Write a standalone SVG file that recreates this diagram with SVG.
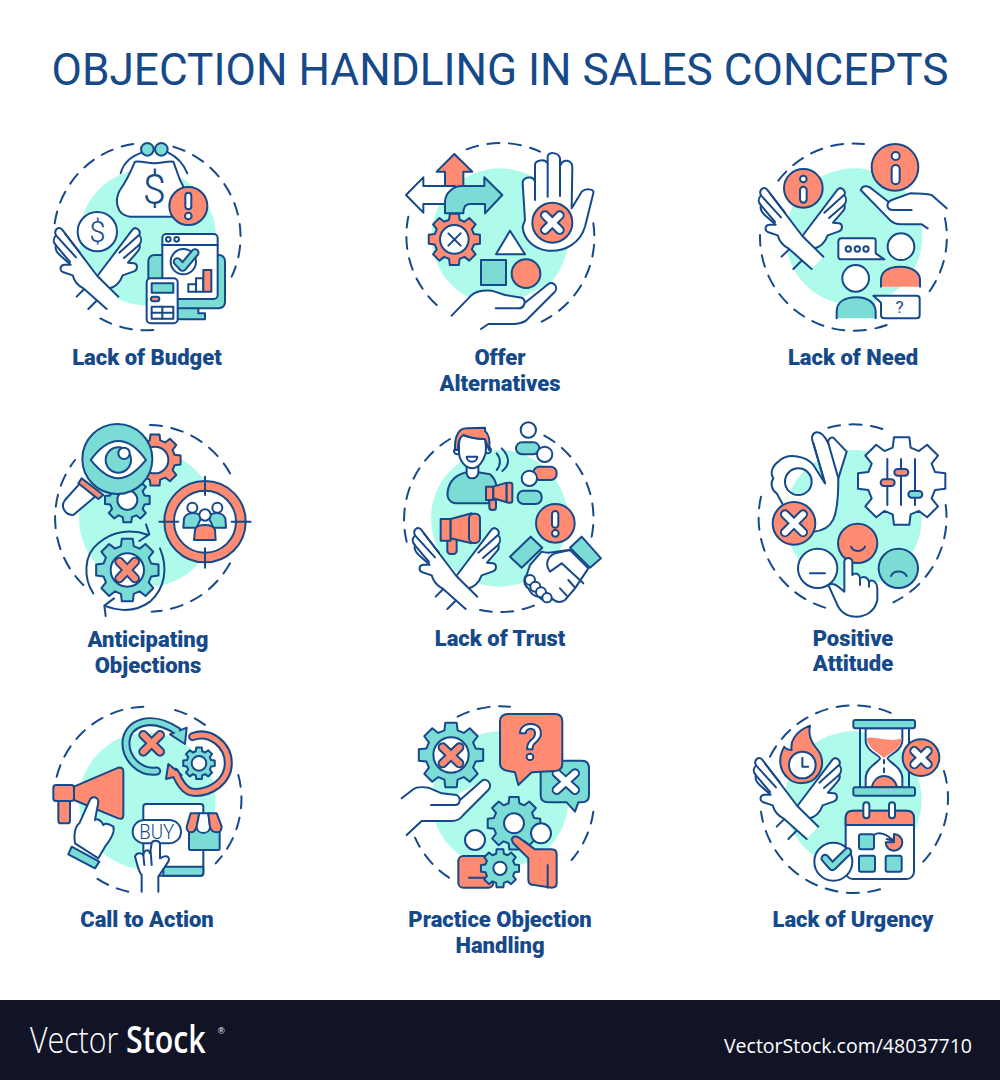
<svg xmlns="http://www.w3.org/2000/svg" width="1000" height="1080" viewBox="0 0 1000 1080">
<style>
*{vector-effect:non-scaling-stroke}
.i{stroke:#16498a;stroke-width:2;fill:none;stroke-linecap:round;stroke-linejoin:round}
.w{fill:#fff}.t{fill:#7bdcd5}.r{fill:#ff8b72}
.l{fill:#aefbeb;stroke:none}
.n{stroke:none}
.d{stroke-dasharray:12 9.5;fill:none}
.xo{stroke-width:10;fill:none}.xw{stroke:#fff;stroke-width:6;fill:none}.xr{stroke:#ff8b72;stroke-width:6;fill:none}.xt{stroke:#7bdcd5;stroke-width:5;fill:none}.xs{stroke:#ff8b72;stroke-width:5;fill:none}.o8{stroke-width:9;fill:none}
.i text{stroke:none;fill:#16498a;font-family:Roboto,"Liberation Sans",sans-serif;font-weight:300;text-anchor:middle}
.lb{font-family:Roboto,"Liberation Sans",sans-serif;font-weight:900;font-size:22px;fill:#16498a;text-anchor:middle}
.ft{font-family:"Open Sans","Liberation Sans",sans-serif;fill:#fff}
</style>
<defs>
<path id="gear" d="M75.3 -20.2L98.5 -17.4L98.5 17.4L75.3 20.2L67.5 39L81.9 57.4L57.4 81.9L39 67.5L20.2 75.3L17.4 98.5L-17.4 98.5L-20.2 75.3L-39 67.5L-57.4 81.9L-81.9 57.4L-67.5 39L-75.3 20.2L-98.5 17.4L-98.5 -17.4L-75.3 -20.2L-67.5 -39L-81.9 -57.4L-57.4 -81.9L-39 -67.5L-20.2 -75.3L-17.4 -98.5L17.4 -98.5L20.2 -75.3L39 -67.5L57.4 -81.9L81.9 -57.4L67.5 -39Z"/>
<g id="hands">
<path d="M110 500L135 475M145 537L172 510"/>
<path class="w" d="M172 438L278 298C288 288 304 302 298 316C306 324 304 336 298 344C302 352 298 360 290 368L264 398L282 400C294 402 294 420 282 424L248 436C240 458 225 472 205 476Z"/>
<path d="M238 368L296 316M252 384L298 344"/>
<path class="w" d="M235 500L172 438L66 298C56 288 40 300 48 316C38 326 40 338 48 346C44 356 52 368 60 376L92 404L72 404C60 406 58 420 68 426L98 436C104 458 115 468 130 475L200 537"/>
<path d="M48 316L108 382M48 346L90 396M76 312L120 368"/>
</g>
</defs>
<rect width="1000" height="1080" fill="#fff"/>
<text x="500" y="85" font-family="Roboto,'Liberation Sans',sans-serif" font-size="44.2" fill="#16498a" text-anchor="middle">OBJECTION HANDLING IN SALES CONCEPTS</text>

<g id="lack-of-budget">
<g class="i" transform="translate(40 130) scale(.33333)">
<circle class="l" cx="323" cy="322" r="205"/>
<path class="d" d="M44 280A282 282 0 0 1 280 42M400 50A282 282 0 0 1 575 440M340 600A282 282 0 0 1 180 565"/>
<path d="M242 130C250 100 270 80 305 68M442 130C430 100 405 78 385 68"/>
<circle class="t" cx="322" cy="58" r="19"/><circle class="t" cx="364" cy="58" r="19"/>
<path class="w" d="M285 95C305 92 320 100 343 100C365 100 385 92 400 95L420 150C445 190 440 255 400 260L270 260C225 255 225 205 240 180C255 160 270 130 285 95Z"/>
<text x="343" y="222" font-size="125">$</text>
<circle class="r" cx="445" cy="228" r="57"/>
<rect class="w" x="436" y="188" width="18" height="50" rx="9"/><circle class="w" cx="445" cy="258" r="10"/>
<circle class="w" cx="172" cy="305" r="59"/>
<text x="172" y="336" font-size="88">$</text>
<use href="#hands"/>
<path class="t" d="M405 530L405 568L495 568L495 550L475 550L475 535"/>
<rect class="t" x="325" y="375" width="230" height="160" rx="18"/>
<rect class="w" x="367" y="312" width="166" height="195" rx="12"/>
<path d="M367 345L533 345"/><circle cx="385" cy="328" r="7"/><circle cx="410" cy="328" r="7"/>
<circle class="w" cx="430" cy="395" r="38"/>
<path class="o8" d="M412 395L428 412L465 368"/><path class="xt" d="M412 395L428 412L465 368"/>
<rect class="w" x="445" y="463" width="23" height="22"/><rect class="w" x="468" y="445" width="22" height="40"/><rect class="r" x="490" y="420" width="24" height="65"/>
<rect class="w" x="320" y="445" width="93" height="135" rx="12"/>
<rect class="t" x="335" y="460" width="65" height="28"/><rect class="r" x="333" y="500" width="25" height="14" rx="7"/>
<rect x="335" y="530" width="65" height="36"/><path d="M335 548L400 548M367 530L367 566"/>
</g>
<text class="lb" x="147" y="365">Lack of Budget</text>
</g>

<g id="offer-alternatives">
<g class="i" transform="translate(395 130) scale(.33333)">
<circle class="l" cx="315" cy="320" r="205"/>
<path class="d" d="M215 58A282 282 0 0 1 435 65M595 280A282 282 0 0 1 440 575M125 525A282 282 0 0 1 40 260"/>
<path class="r" d="M178 72L232 125L205 125L205 180L150 180L150 125L125 125Z"/>
<path class="w" d="M33 195L85 142L85 168L180 168L180 222L85 222L85 248Z"/>
<path class="t" d="M150 250L150 215C150 190 175 168 200 168L268 168L268 142L322 195L270 250L270 222L225 222C210 222 205 235 205 250Z"/>
<use class="r" href="#gear" transform="translate(178 328) scale(.78)"/>
<circle class="w" cx="178" cy="328" r="43"/><path d="M160 310L197 347M197 310L160 347"/>
<path class="w" d="M345 302L390 373L303 373Z"/><rect class="t" x="258" y="390" width="75" height="75"/><circle class="r" cx="393" cy="431" r="43"/>
<path class="w n" d="M170 557L228 497C240 485 260 480 290 482L330 495L380 503L460 462C475 450 495 475 475 490L400 565C390 578 375 580 360 582L280 582L258 597Z"/>
<path d="M170 557L228 497C240 485 260 480 290 482L330 495L380 503C395 510 390 535 370 535L302 535M388 520L460 462C475 450 495 475 475 490L400 565C390 578 375 580 360 582L280 582L258 597"/>
<path class="w" d="M390 270L383 160C383 140 415 135 420 155L420 105C420 90 450 85 458 100L458 80C458 65 490 65 495 85L497 105C505 85 530 90 532 110L530 235L560 185C570 175 600 175 595 190L570 290C555 340 510 365 460 362C420 358 385 330 383 290Z"/>
<path d="M420 155L420 210M458 100L458 200M495 90L495 198"/>
<circle class="r" cx="472" cy="278" r="60"/>
<path class="xo" d="M450 256L494 300M494 256L450 300"/><path class="xw" d="M450 256L494 300M494 256L450 300"/>
</g>
<text class="lb" x="500" y="365">Offer</text><text class="lb" x="500" y="391">Alternatives</text>
</g>

<g id="lack-of-need">
<g class="i" transform="translate(745 130) scale(.33333)">
<circle class="l" cx="327" cy="320" r="205"/>
<path class="d" d="M100 152A282 282 0 0 1 357 42M600 265A282 282 0 0 1 553 485M425 585A282 282 0 0 1 45 315"/>
<circle class="r" cx="175" cy="175" r="58"/><circle class="w" cx="175" cy="147" r="10"/><rect class="w" x="165" y="170" width="20" height="48" rx="10"/>
<use href="#hands" transform="translate(0 -120)"/>
<path class="w n" d="M347 180C355 160 375 170 385 180L430 215L495 190L560 195L605 235L548 295L530 283L470 283C450 283 440 278 430 265Z"/>
<path d="M605 235L560 195C540 190 520 190 495 190L440 210C420 220 425 240 445 240L500 240M347 180C355 160 375 170 385 180L430 215M347 180L430 265C440 278 450 283 470 283L530 283L548 295"/>
<circle class="r" cx="450" cy="112" r="70"/><circle class="w" cx="452" cy="78" r="12"/><rect class="w" x="440" y="105" width="24" height="58" rx="12"/>
<path class="w" d="M290 325L385 325Q392 325 392 332L392 370L418 388L290 388Q280 388 280 380L280 335Q280 325 290 325Z"/>
<circle cx="310" cy="357" r="8"/><circle cx="337" cy="357" r="8"/><circle cx="363" cy="357" r="8"/>
<circle class="w" cx="468" cy="350" r="40"/>
<path class="r" d="M408 470L408 450C408 425 430 410 465 410C505 410 525 430 525 450L525 470"/>
<circle class="w" cx="332" cy="445" r="40"/>
<path class="t" d="M275 565L275 545C275 515 300 502 335 502C370 502 392 520 392 545L392 565"/>
<path class="w" d="M385 497L515 497Q524 497 524 506L524 555Q524 565 515 565L418 565Q408 565 408 555L408 518Z"/>
<text x="464" y="549" font-size="52" style="font-weight:400">?</text>
</g>
<text class="lb" x="853" y="365">Lack of Need</text>
</g>

<g id="anticipating-objections">
<g class="i" transform="translate(40 415) scale(.33333)">
<circle class="l" cx="322" cy="310" r="205"/>
<path class="d" d="M330 30A282 282 0 0 1 570 175M570 445A282 282 0 0 1 335 590M130 510A282 282 0 0 1 105 135"/>
<use class="r" href="#gear" transform="translate(345 135) scale(.78)"/><circle class="w" cx="345" cy="135" r="40"/>
<use class="t" href="#gear" transform="translate(262 255) scale(.68)"/><circle class="w" cx="262" cy="255" r="30"/>
<path class="w" d="M120 205L75 255C60 275 75 300 100 300L165 245Z"/>
<path class="r" d="M125 190L190 240L175 252L115 205Z"/>
<circle class="t" cx="232" cy="132" r="105"/>
<path class="w" d="M152 135C185 90 215 78 235 78C260 78 290 95 318 135C290 170 260 190 235 190C210 190 180 170 152 135Z"/>
<circle class="t" cx="235" cy="135" r="38"/><circle class="w" cx="252" cy="115" r="17"/>
<circle class="r" cx="495" cy="320" r="122"/><circle class="w" cx="495" cy="320" r="93"/>
<path d="M495 185L495 240M495 400L495 458M358 320L415 320M575 320L632 320"/>
<path class="t" d="M430 338L432 310C440 290 470 290 485 305L470 338Z"/><path class="t" d="M558 338L556 310C548 290 518 290 505 305L520 338Z"/>
<circle class="w" cx="457" cy="278" r="15"/><circle class="w" cx="532" cy="278" r="15"/>
<path class="r" d="M462 375L465 345C468 325 520 325 525 345L527 375Z"/><circle class="w" cx="495" cy="300" r="17"/>
<use class="t" href="#gear" transform="translate(262 465) scale(.95)"/><circle class="w" cx="262" cy="465" r="50"/>
<path class="xo" d="M238 440L285 490M285 440L238 490"/><path class="xr" d="M238 440L285 490M285 440L238 490"/>
<path d="M160 535C130 490 130 420 175 385C215 350 270 340 325 360M318 328L328 358L298 378M360 400C385 460 375 520 330 560C290 590 240 590 193 572M222 550L193 572L197 603"/>
</g>
<text class="lb" x="148" y="647">Anticipating</text><text class="lb" x="148" y="673">Objections</text>
</g>

<g id="lack-of-trust">
<g class="i" transform="translate(395 415) scale(.33333)">
<circle class="l" cx="313" cy="310" r="205"/>
<path class="d" d="M35 380A282 282 0 0 1 165 72M448 62A282 282 0 0 1 590 365M417 572A282 282 0 0 1 255 585"/>
<use href="#hands" transform="translate(12 45)"/>
<path class="t" d="M215 172C218 195 245 195 250 172L285 178C295 185 302 200 305 215L280 265L180 265C165 262 155 250 158 230C162 200 180 180 215 172Z"/>
<circle class="w" cx="187" cy="108" r="10"/><circle class="w" cx="278" cy="105" r="10"/>
<path class="w" d="M215 160L215 175C218 195 245 195 250 175L250 150L215 150Z"/>
<path class="w" d="M192 90C192 70 195 62 205 60C225 68 250 72 270 72C272 85 275 95 272 115C265 140 250 160 232 160C212 160 195 140 192 115Z"/>
<path class="r" d="M180 105C178 65 190 40 215 40L270 38L270 48C285 60 285 85 282 105L270 72C250 72 225 68 205 60C190 70 190 85 188 105Z"/>
<path class="w" d="M215 125L247 125C247 145 215 145 215 125Z"/>
<rect class="r" x="283" y="252" width="20" height="33" rx="8"/><rect class="r" x="273" y="215" width="22" height="40"/>
<path class="r" d="M295 215L335 203L335 262L295 250Z"/><rect class="r" x="335" y="203" width="17" height="60" rx="6"/>
<path d="M305 115C318 130 318 150 305 165M320 100C345 125 345 150 322 168"/>
<rect class="t" x="363" y="82" width="70" height="36" rx="18"/><circle class="w" cx="400" cy="45" r="23"/><circle class="w" cx="449" cy="118" r="23"/>
<rect class="r" x="415" y="155" width="70" height="40" rx="18"/><circle class="w" cx="403" cy="190" r="23"/>
<rect class="t" x="368" y="227" width="72" height="40" rx="18"/>
<circle class="r" cx="481" cy="325" r="58"/><rect class="w" x="471" y="288" width="19" height="50" rx="9.5"/><circle class="w" cx="481" cy="355" r="10"/>
<rect class="r" x="157" y="365" width="28" height="52" rx="10"/><rect class="r" x="137" y="312" width="30" height="65"/>
<path class="r" d="M167 312L230 295L230 385L167 370Z"/><rect class="r" x="222" y="296" width="33" height="88" rx="14"/>
<path class="w" d="M405 450L440 410C470 420 490 405 525 405L580 460L540 520L510 555C495 565 480 560 470 550C455 565 440 555 430 545C415 545 405 530 400 520C385 510 385 490 395 480Z"/>
<circle class="w" cx="405" cy="495" r="15"/><circle class="w" cx="421" cy="515" r="15"/><circle class="w" cx="438" cy="532" r="15"/><circle class="w" cx="456" cy="548" r="14"/>
<path d="M525 405L480 415C455 425 450 450 465 470L500 445L565 505M520 495L540 518M495 520L515 542"/>
<path class="t" d="M407 365L442 398L380 458L345 425Z"/><path class="t" d="M560 365L618 430L585 458L525 398Z"/>
</g>
<text class="lb" x="500" y="646">Lack of Trust</text>
</g>

<g id="positive-attitude">
<g class="i" transform="translate(745 415) scale(.33333)">
<circle class="l" cx="325" cy="310" r="205"/>
<path class="d" d="M250 38A282 282 0 0 1 412 42M602 270A282 282 0 0 1 445 562M240 578A282 282 0 0 1 48 245"/>
<use class="w" href="#gear" transform="translate(470 198) scale(1.33)"/>
<path d="M427 132L427 270M468 132L468 270M510 132L510 270"/>
<rect class="r" x="407" y="193" width="42" height="20" rx="10"/><rect class="r" x="448" y="162" width="42" height="20" rx="10"/><rect class="t" x="490" y="228" width="42" height="20" rx="10"/>
<path class="w" fill-rule="evenodd" d="M205 350C265 345 280 310 280 190L305 110L265 68C255 65 248 75 250 85C240 65 230 50 215 52C200 55 198 70 205 85L240 205L205 150C185 125 130 110 100 140C80 155 75 175 85 190C75 205 80 225 95 235L125 290L205 350ZM120 200A40 40 0 1 0 200 200A40 40 0 1 0 120 200Z"/>
<path d="M240 205L205 85M280 190L250 85"/>
<circle class="r" cx="147" cy="325" r="64"/>
<path class="xo" d="M120 298L174 352M174 298L120 352"/><path class="xw" d="M120 298L174 352M174 298L120 352"/>
<circle class="r" cx="338" cy="385" r="59"/><path d="M318 395C325 412 350 412 360 395"/>
<circle class="w" cx="218" cy="460" r="59"/><path d="M195 475L240 475"/>
<circle class="t" cx="460" cy="460" r="59"/><path d="M438 483C445 465 475 465 485 483"/>
<path class="w" d="M250 510C270 500 285 520 298 530L298 440C300 425 320 425 322 440L322 480C335 470 345 480 345 490C358 480 370 490 372 500C385 490 397 505 397 520L397 555C390 590 360 605 335 605C305 605 285 590 275 565Z"/>
<path d="M345 490L345 510M372 500L372 515"/>
</g>
<text class="lb" x="853" y="646">Positive</text><text class="lb" x="853" y="671">Attitude</text>
</g>

<g id="call-to-action">
<g class="i" transform="translate(40 695) scale(.33333)">
<circle class="l" cx="322" cy="318" r="205"/>
<path class="d" d="M50 245A280 280 0 0 1 310 35M405 45A280 280 0 0 1 495 90M595 240A280 280 0 0 1 527 505M265 590A280 280 0 0 1 170 550"/>
<path class="o8" d="M350 228C300 235 255 190 258 140C262 85 330 55 412 108"/>
<path class="t" d="M440 98L435 147L390 118Z"/>
<path class="xt" d="M350 228C300 235 255 190 258 140C262 85 330 55 410 107"/>
<path class="xo" d="M310 120L360 170M360 120L310 170"/><path class="xr" d="M310 120L360 170M360 120L310 170"/>
<path class="o8" d="M458 125C510 105 565 150 565 205C565 260 510 295 460 292C435 290 420 265 405 232"/>
<path class="r" d="M378 252L385 207L425 240Z"/>
<path class="xs" d="M458 125C510 105 565 150 565 205C565 260 510 295 460 292C435 290 420 265 407 236"/>
<use class="t" href="#gear" transform="translate(477 205) scale(.48)"/><circle class="w" cx="477" cy="205" r="22"/>
<rect class="r" x="55" y="300" width="35" height="85" rx="8"/><rect class="r" x="40" y="270" width="62" height="48" rx="8"/>
<path class="r" d="M102 275L235 218Q250 215 250 230L250 360Q250 375 235 370L102 315Z"/>
<path class="w" d="M148 318L118 385C105 395 100 420 105 445L175 490L195 455C215 430 225 410 220 395C205 385 195 385 190 390C185 375 170 370 165 375L175 322C175 305 155 300 148 318Z"/>
<path class="t" d="M95 455L178 500L165 520L85 478Z"/>
<rect class="w" x="310" y="327" width="180" height="215" rx="8"/>
<path class="t" d="M370 515L490 515L490 534Q490 542 482 542L370 542Z"/>
<rect class="w" x="278" y="375" width="145" height="70" rx="35"/>
<text x="350" y="431" font-size="62" textLength="105" lengthAdjust="spacingAndGlyphs">BUY</text>
<rect class="t" x="447" y="400" width="92" height="65" rx="4"/>
<path class="r" d="M452 355L478 355L470 395C462 420 440 415 440 395Z"/><path class="w" d="M478 355L505 355L510 395C510 420 470 420 470 395Z"/><path class="r" d="M505 355L530 355L545 395C545 420 515 415 510 395Z"/>
<path class="w" d="M305 590L305 540C295 530 290 500 285 485C290 470 305 475 310 480C312 465 325 460 330 475L335 445C338 435 355 435 360 445L360 490L370 485C385 480 390 490 385 500L355 545L355 590"/>
<path d="M310 480L313 510M332 470L335 510"/>
</g>
<text class="lb" x="147" y="927">Call to Action</text>
</g>

<g id="practice-objection-handling">
<g class="i" transform="translate(395 695) scale(.33333)">
<circle class="l" cx="315" cy="314" r="205"/>
<path class="d" d="M188 65A282 282 0 0 1 345 35M595 350A282 282 0 0 1 530 495M162 548A282 282 0 0 1 60 428"/>
<use class="t" href="#gear" transform="translate(168 180) scale(.98)"/><circle class="w" cx="168" cy="180" r="53"/>
<path class="xo" d="M143 157L193 205M193 157L143 205"/><path class="xr" d="M143 157L193 205M193 157L143 205"/>
<path class="w n" d="M20 310L55 283C65 275 80 275 100 278L140 295L185 300L260 258C275 245 295 270 280 285L205 360C195 375 185 378 170 378L80 378L35 420Z"/>
<path d="M20 310L55 283C65 275 80 275 100 278L140 295L185 300C200 310 195 330 180 330L108 330M195 315L260 258C275 245 295 270 280 285L205 360C195 375 185 378 170 378L80 378L35 420"/>
<path class="t" d="M460 197L560 197Q582 197 582 220L582 300Q582 322 560 322L550 322L540 350L515 322L460 322Q437 322 437 300L437 230Z"/>
<path class="xo" d="M485 285L540 235M485 235L540 285"/><path class="xw" d="M485 285L540 235M485 235L540 285"/>
<path class="r" d="M340 57L480 57Q502 57 502 80L502 205Q502 228 480 228L410 232L370 270L360 232L340 228Q315 225 315 205L315 80Q315 57 340 57Z"/>
<text x="407" y="195" font-size="150" style="fill:#fff;stroke:#16498a;stroke-width:2;font-weight:500">?</text>
<use class="t" href="#gear" transform="translate(357 385) scale(.8)"/><circle class="w" cx="357" cy="385" r="30"/>
<circle class="w" cx="438" cy="415" r="30"/><circle class="w" cx="240" cy="435" r="30"/>
<rect class="r" x="190" y="483" width="105" height="95" rx="15"/><path d="M222 548L272 548"/>
<use class="t" href="#gear" transform="translate(315 520) scale(.58)"/><circle class="w" cx="315" cy="520" r="20"/>
<path class="r" d="M350 433C355 420 368 425 375 430L420 463L470 463Q485 463 485 478L485 565Q485 578 470 578L418 570Q400 570 400 555L400 490L355 445Z"/>
<path d="M458 510L458 578"/>
</g>
<text class="lb" x="500" y="927">Practice Objection</text><text class="lb" x="500" y="953">Handling</text>
</g>

<g id="lack-of-urgency">
<g class="i" transform="translate(745 695) scale(.33333)">
<circle class="l" cx="325" cy="314" r="205"/>
<path class="d" d="M75 185A282 282 0 0 1 440 55M597 228A282 282 0 0 1 535 500M405 583A282 282 0 0 1 48 350"/>
<path class="r" d="M195 92C150 110 135 140 140 165C125 165 115 155 118 155C100 185 100 225 130 250C150 270 195 270 215 245C240 215 235 180 210 155C195 135 190 115 195 92Z"/>
<circle class="w" cx="172" cy="210" r="40"/><path d="M172 188L172 215L190 215"/>
<use href="#hands" transform="translate(-15 -105)"/>
<path d="M345 100L345 277M492 100L492 277"/>
<path class="w" d="M362 100L362 135C362 170 405 180 405 190C405 200 362 215 362 250L362 277L472 277L472 250C472 215 428 200 428 190C428 180 472 170 472 135L472 100Z"/>
<path class="r n" d="M365 130C390 120 430 145 470 130C470 165 430 175 417 190C405 175 370 165 365 130Z"/>
<path class="r" d="M380 277C385 255 400 243 417 243C435 243 450 255 457 277Z"/>
<path d="M417 195L417 205M417 220L417 232"/>
<rect class="t" x="325" y="75" width="185" height="25" rx="6"/><rect class="t" x="325" y="277" width="185" height="25" rx="6"/>
<circle class="r" cx="528" cy="188" r="55"/>
<path class="xo" d="M508 168L548 208M548 168L508 208"/><path class="xw" d="M508 168L548 208M548 168L508 208"/>
<rect class="w" x="302" y="347" width="205" height="205" rx="22"/>
<path class="r" d="M302 390L302 369Q302 347 324 347L485 347Q507 347 507 369L507 390Z"/>
<rect class="w" x="355" y="322" width="18" height="48" rx="9"/><rect class="w" x="432" y="322" width="18" height="48" rx="9"/>
<rect class="t" x="342" y="418" width="45" height="45" rx="6"/><rect class="t" x="342" y="482" width="48" height="48" rx="6"/><rect class="t" x="422" y="482" width="48" height="48" rx="6"/>
<path class="r" d="M447 417A25 25 0 1 1 422 442L447 442Z"/>
<path d="M387 420C400 410 425 415 445 438M425 432L445 438L447 420"/>
<circle class="w" cx="265" cy="500" r="57"/>
<path class="o8" d="M240 490L262 515L308 470"/><path class="xt" d="M240 490L262 515L308 470"/>
</g>
<text class="lb" x="853" y="927">Lack of Urgency</text>
</g>

<g id="footer">
<rect x="0" y="1000" width="1000" height="80" fill="#111427"/>
<text class="ft" transform="translate(30 1053) scale(.82 1)" font-size="37" font-weight="300">Vector</text>
<text class="ft" transform="translate(126 1053) scale(.82 1)" font-size="37" font-weight="600">Stock</text>
<text x="218" y="1034" font-family="'Liberation Sans',sans-serif" font-size="9" fill="#fff">®</text>
<text class="ft" x="724" y="1053" font-size="20" textLength="248" lengthAdjust="spacingAndGlyphs">VectorStock.com/48037710</text>
</g>
</svg>
